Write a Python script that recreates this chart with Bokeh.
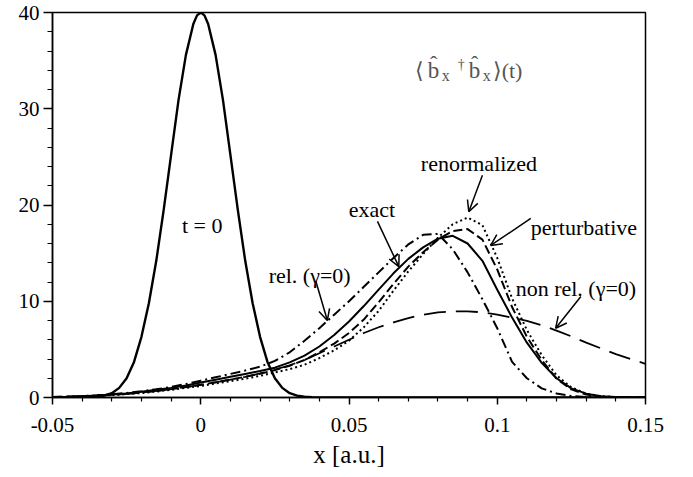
from bokeh.plotting import figure
from bokeh.models import Range1d, FixedTicker, Arrow, OpenHead
from bokeh.core.properties import value
from bokeh.embed import file_html
from bokeh.resources import INLINE

# ---------------- data ----------------
x = [-0.05, -0.045, -0.04, -0.035, -0.03, -0.025, -0.02, -0.015, -0.01, -0.005,
     0.0, 0.005, 0.01, 0.015, 0.02, 0.025, 0.03, 0.035, 0.04, 0.045,
     0.05, 0.055, 0.06, 0.065, 0.07, 0.075, 0.08, 0.085, 0.09, 0.095,
     0.1, 0.105, 0.11, 0.115, 0.12, 0.125, 0.13, 0.135, 0.14, 0.145, 0.15]

exact = [0.05, 0.08, 0.13, 0.2, 0.3, 0.42, 0.6, 0.8, 1.0, 1.25,
         1.55, 1.85, 2.15, 2.45, 2.75, 3.1, 3.65, 4.35, 5.3, 6.5,
         7.9, 9.5, 11.2, 12.9, 14.4, 15.6, 16.5, 16.8, 16.0, 14.2,
         11.2, 8.3, 5.7, 3.6, 2.0, 0.95, 0.4, 0.14, 0.05, 0.02, 0.01]

rel_gamma0 = [0.05, 0.09, 0.15, 0.23, 0.34, 0.48, 0.65, 0.85, 1.1, 1.4,
              1.75, 2.1, 2.45, 2.8, 3.2, 3.8, 4.7, 5.9, 7.2, 8.6,
              10.0, 11.5, 13.0, 14.5, 15.9, 16.9, 17.0, 15.4, 13.0, 10.2,
              7.2, 3.7, 2.0, 0.95, 0.42, 0.15, 0.05, 0.02, 0.01, 0.0, 0.0]

renormalized = [0.04, 0.07, 0.11, 0.17, 0.25, 0.35, 0.47, 0.62, 0.8, 1.0,
                1.2, 1.45, 1.7, 1.95, 2.25, 2.6, 2.95, 3.4, 4.1, 4.9,
                5.9, 7.3, 9.0, 11.1, 13.1, 14.9, 16.6, 18.0, 18.7, 17.9,
                14.5, 10.3, 7.0, 4.4, 2.3, 1.05, 0.4, 0.13, 0.04, 0.01, 0.0]

perturbative = [0.05, 0.08, 0.12, 0.19, 0.28, 0.39, 0.52, 0.68, 0.87, 1.08,
                1.32, 1.58, 1.86, 2.15, 2.47, 2.85, 3.3, 3.9, 4.7, 5.6,
                6.7, 8.1, 9.9, 11.8, 13.6, 15.1, 16.4, 17.3, 17.5, 16.4,
                13.3, 9.4, 6.3, 3.9, 1.95, 0.85, 0.3, 0.1, 0.03, 0.01, 0.0]

nonrel_gamma0 = [0.05, 0.08, 0.12, 0.19, 0.28, 0.39, 0.52, 0.68, 0.87, 1.08,
                 1.32, 1.58, 1.86, 2.15, 2.5, 2.9, 3.35, 3.9, 4.6, 5.3,
                 6.0, 6.7, 7.3, 7.8, 8.25, 8.6, 8.85, 8.95, 8.95, 8.85,
                 8.6, 8.3, 7.95, 7.5, 6.95, 6.35, 5.7, 5.1, 4.5, 4.0, 3.5]

x_t0 = [-0.05, -0.0475, -0.045, -0.0425, -0.04, -0.0375, -0.035, -0.0325, -0.03, -0.0275,
        -0.025, -0.0225, -0.02, -0.0175, -0.015, -0.0125, -0.01, -0.0075, -0.005, -0.0025,
        -0.00125, 0.0, 0.00125,
        0.0025, 0.005, 0.0075, 0.01, 0.0125, 0.015, 0.0175, 0.02, 0.0225,
        0.025, 0.0275, 0.03, 0.0325, 0.035, 0.0375, 0.04, 0.0425, 0.045, 0.0475,
        0.05, 0.15]
t0 = [0.0, 0.0, 0.0, 0.0, 0.01, 0.03, 0.08, 0.2, 0.45, 1.0,
      2.0, 3.7, 6.3, 9.8, 14.2, 19.5, 25.2, 30.9, 35.6, 38.8,
      39.7, 40.0, 39.7,
      38.8, 35.6, 30.9, 25.2, 19.5, 14.2, 9.8, 6.3, 3.7,
      2.0, 1.0, 0.45, 0.2, 0.08, 0.03, 0.01, 0.0, 0.0, 0.0,
      0.0, 0.0]

x_ticks = [-0.05, 0, 0.05, 0.1, 0.15]
x_tick_labels = ["-0.05", "0", "0.05", "0.1", "0.15"]
x_minor = [-0.04, -0.03, -0.02, -0.01, 0.01, 0.02, 0.03, 0.04, 0.06, 0.07, 0.08, 0.09,
           0.11, 0.12, 0.13, 0.14]
y_ticks = [0, 10, 20, 30, 40]
y_minor = [2, 4, 6, 8, 12, 14, 16, 18, 22, 24, 26, 28, 32, 34, 36, 38]

# ---------------- figure ----------------
FONT = "'Liberation Serif', 'Times New Roman', serif"   # axes
GFONT = "serif"                                          # text glyphs

p = figure(width=692, height=476, output_backend="svg", toolbar_location=None,
           x_range=Range1d(-0.05, 0.15), y_range=Range1d(0, 40),
           min_border_left=52, min_border_right=47, min_border_top=12,
           min_border_bottom=79)
p.xgrid.visible = False
p.ygrid.visible = False
p.outline_line_color = "black"
p.outline_line_width = 1.5
p.outline_line_alpha = 1.0
p.background_fill_color = "white"
p.border_fill_color = "white"

p.xaxis.ticker = FixedTicker(ticks=x_ticks, minor_ticks=x_minor)
p.xaxis.major_label_overrides = dict(zip(x_ticks, x_tick_labels))
p.yaxis.ticker = FixedTicker(ticks=y_ticks, minor_ticks=y_minor)

for ax in (p.xaxis[0], p.yaxis[0]):
    ax.axis_line_width = 1.5
    ax.axis_line_color = "black"
    ax.major_tick_line_width = 1.5
    ax.minor_tick_line_width = 1.2
    ax.major_tick_line_color = "black"
    ax.minor_tick_line_color = "black"
    ax.major_tick_in = 0
    ax.minor_tick_in = 0
    ax.major_label_text_font = FONT
    ax.major_label_text_font_size = "21px"
    ax.major_label_text_color = "black"

p.xaxis.major_tick_out = 7
p.xaxis.minor_tick_out = 4
p.yaxis.major_tick_out = 9
p.yaxis.minor_tick_out = 5
p.xaxis.major_label_standoff = 13
p.yaxis.major_label_standoff = 4
p.xaxis.axis_label = "x [a.u.]"
p.xaxis.axis_label_text_font = FONT
p.xaxis.axis_label_text_font_size = "25px"
p.xaxis.axis_label_text_font_style = "normal"
p.xaxis.axis_label_text_color = "black"
p.xaxis.axis_label_standoff = 6

# ---------------- curves ----------------
p.line(x_t0, t0, line_color="black", line_width=2.4)
p.line(x, nonrel_gamma0, line_color="black", line_width=1.8, line_dash="22 10")
p.line(x, rel_gamma0, line_color="black", line_width=2.0, line_dash="10 4 2 4")
p.line(x, renormalized, line_color="black", line_width=2.0, line_dash="2 3")
p.line(x, perturbative, line_color="black", line_width=2.0, line_dash="9 4")
p.line(x, exact, line_color="black", line_width=2.0)

# ---------------- annotations (text glyphs) ----------------
def lab(text, xx, yy, align="left", size="22px", xo=0, yo=0, color="black"):
    p.text(x=[xx], y=[yy], text=[text], text_font=value(GFONT),
           text_font_size=value(size), text_align=align,
           text_baseline="alphabetic", x_offset=xo, y_offset=-yo,
           text_color=color)

lab("t = 0", 0.0005, 17.9, align="center")
lab("exact", 0.0577, 19.5, align="center")
lab("renormalized", 0.0938, 24.3, align="center")
lab("perturbative", 0.1113, 17.7)
lab("rel. (\u03b3=0)", 0.0229, 12.7)
lab("non rel. (\u03b3=0)", 0.1062, 11.3)

# expression <b^x+ b^x>(t)
tx, ty = 0.0718, 34.0
tc = "#555555"
lab("\u27e8", tx, ty, size="22px", xo=1, color=tc)
lab("b", tx, ty, size="23px", xo=14, color=tc)
lab("\u02c6", tx, ty, size="22px", align="center", xo=20, yo=7, color=tc)
lab("x", tx, ty, size="16px", xo=28, yo=-5, color=tc)
lab("\u2020", tx, ty, size="14px", xo=44, yo=6, color=tc)
lab("b", tx, ty, size="23px", xo=55, color=tc)
lab("\u02c6", tx, ty, size="22px", align="center", xo=61, yo=7, color=tc)
lab("x", tx, ty, size="16px", xo=69, yo=-5, color=tc)
lab("\u27e9(t)", tx, ty, size="22px", xo=79, color=tc)

def arrow(x0, y0, x1, y1):
    p.add_layout(Arrow(end=OpenHead(size=11, line_width=1.5, line_color="black"),
                       x_start=x0, y_start=y0, x_end=x1, y_end=y1,
                       line_width=1.5, line_color="black"))

arrow(0.0950, 23.1, 0.0904, 19.3)     # renormalized
arrow(0.0596, 18.3, 0.0668, 13.6)     # exact
arrow(0.0388, 12.1, 0.0427, 8.0)      # rel
arrow(0.1113, 18.6, 0.0978, 15.8)     # perturbative
arrow(0.1282, 10.5, 0.1197, 7.2)      # non rel

open("out.html", "w").write(file_html(p, INLINE))
